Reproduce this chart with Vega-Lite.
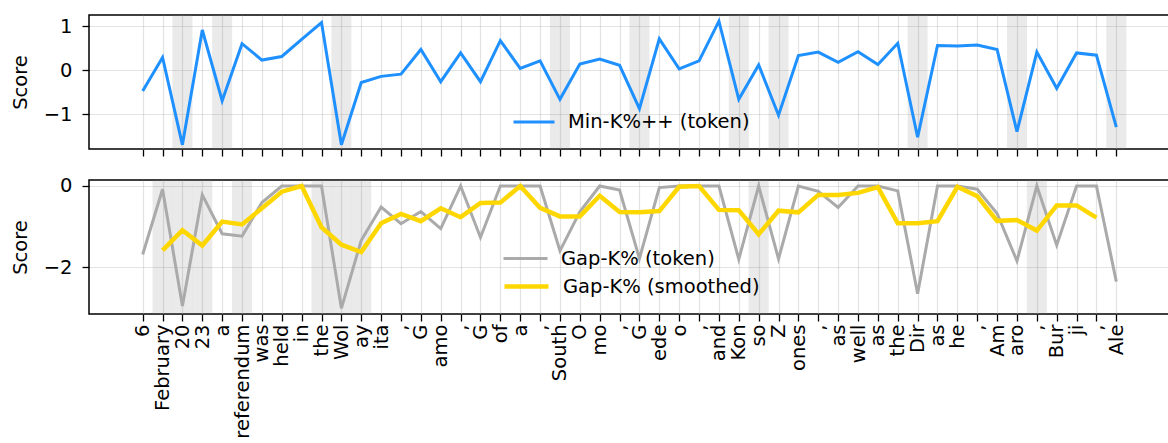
{
  "$schema": "https://vega.github.io/schema/vega-lite/v6.json",
  "padding": {"left": 9, "top": 14, "right": 0, "bottom": 0},
  "background": "white",
  "datasets": {"tok": [
    {"i": 0, "t": "6", "mk": -0.47, "gap": -1.69, "gsm": null, "bt": 0, "bb": 0},
    {"i": 1, "t": "February", "mk": 0.29, "gap": -0.08, "gsm": -1.59, "bt": 0, "bb": 1},
    {"i": 2, "t": "20", "mk": -1.69, "gap": -2.96, "gsm": -1.09, "bt": 1, "bb": 1},
    {"i": 3, "t": "23", "mk": 0.91, "gap": -0.22, "gsm": -1.47, "bt": 0, "bb": 1},
    {"i": 4, "t": "a", "mk": -0.69, "gap": -1.18, "gsm": -0.88, "bt": 1, "bb": 0},
    {"i": 5, "t": "referendum", "mk": 0.60, "gap": -1.24, "gsm": -0.95, "bt": 0, "bb": 1},
    {"i": 6, "t": "was", "mk": 0.23, "gap": -0.41, "gsm": -0.55, "bt": 0, "bb": 0},
    {"i": 7, "t": "held", "mk": 0.31, "gap": 0.0, "gsm": -0.14, "bt": 0, "bb": 0},
    {"i": 8, "t": "in", "mk": 0.70, "gap": 0.0, "gsm": 0.0, "bt": 0, "bb": 0},
    {"i": 9, "t": "the", "mk": 1.08, "gap": 0.0, "gsm": -1.02, "bt": 0, "bb": 1},
    {"i": 10, "t": "Wol", "mk": -1.69, "gap": -3.02, "gsm": -1.45, "bt": 1, "bb": 1},
    {"i": 11, "t": "ay", "mk": -0.28, "gap": -1.34, "gsm": -1.63, "bt": 0, "bb": 1},
    {"i": 12, "t": "ita", "mk": -0.14, "gap": -0.52, "gsm": -0.92, "bt": 0, "bb": 0},
    {"i": 13, "t": ",", "mk": -0.09, "gap": -0.93, "gsm": -0.69, "bt": 0, "bb": 0},
    {"i": 14, "t": "G", "mk": 0.47, "gap": -0.63, "gsm": -0.87, "bt": 0, "bb": 0},
    {"i": 15, "t": "amo", "mk": -0.26, "gap": -1.05, "gsm": -0.55, "bt": 0, "bb": 0},
    {"i": 16, "t": ",", "mk": 0.39, "gap": 0.0, "gsm": -0.77, "bt": 0, "bb": 0},
    {"i": 17, "t": "G", "mk": -0.26, "gap": -1.27, "gsm": -0.42, "bt": 0, "bb": 0},
    {"i": 18, "t": "of", "mk": 0.67, "gap": 0.0, "gsm": -0.41, "bt": 0, "bb": 0},
    {"i": 19, "t": "a", "mk": 0.04, "gap": 0.0, "gsm": 0.0, "bt": 0, "bb": 0},
    {"i": 20, "t": ",", "mk": 0.21, "gap": 0.0, "gsm": -0.54, "bt": 0, "bb": 0},
    {"i": 21, "t": "South", "mk": -0.66, "gap": -1.60, "gsm": -0.75, "bt": 1, "bb": 0},
    {"i": 22, "t": "O", "mk": 0.14, "gap": -0.64, "gsm": -0.75, "bt": 0, "bb": 0},
    {"i": 23, "t": "mo", "mk": 0.25, "gap": 0.0, "gsm": -0.24, "bt": 0, "bb": 0},
    {"i": 24, "t": ",", "mk": 0.11, "gap": -0.10, "gsm": -0.64, "bt": 0, "bb": 0},
    {"i": 25, "t": "G", "mk": -0.87, "gap": -1.79, "gsm": -0.65, "bt": 1, "bb": 0},
    {"i": 26, "t": "ede", "mk": 0.71, "gap": -0.04, "gsm": -0.62, "bt": 0, "bb": 0},
    {"i": 27, "t": "o", "mk": 0.03, "gap": 0.0, "gsm": -0.02, "bt": 0, "bb": 0},
    {"i": 28, "t": ",", "mk": 0.21, "gap": 0.0, "gsm": 0.0, "bt": 0, "bb": 0},
    {"i": 29, "t": "and", "mk": 1.11, "gap": 0.0, "gsm": -0.59, "bt": 0, "bb": 0},
    {"i": 30, "t": "Kon", "mk": -0.66, "gap": -1.81, "gsm": -0.60, "bt": 1, "bb": 0},
    {"i": 31, "t": "so", "mk": 0.12, "gap": 0.0, "gsm": -1.19, "bt": 0, "bb": 1},
    {"i": 32, "t": "Z", "mk": -1.02, "gap": -1.80, "gsm": -0.61, "bt": 1, "bb": 0},
    {"i": 33, "t": "ones", "mk": 0.33, "gap": 0.0, "gsm": -0.65, "bt": 0, "bb": 0},
    {"i": 34, "t": ",", "mk": 0.41, "gap": -0.13, "gsm": -0.22, "bt": 0, "bb": 0},
    {"i": 35, "t": "as", "mk": 0.18, "gap": -0.53, "gsm": -0.22, "bt": 0, "bb": 0},
    {"i": 36, "t": "well", "mk": 0.42, "gap": 0.0, "gsm": -0.17, "bt": 0, "bb": 0},
    {"i": 37, "t": "as", "mk": 0.13, "gap": 0.0, "gsm": -0.03, "bt": 0, "bb": 0},
    {"i": 38, "t": "the", "mk": 0.61, "gap": -0.12, "gsm": -0.92, "bt": 0, "bb": 0},
    {"i": 39, "t": "Dir", "mk": -1.52, "gap": -2.66, "gsm": -0.92, "bt": 1, "bb": 0},
    {"i": 40, "t": "as", "mk": 0.56, "gap": 0.0, "gsm": -0.87, "bt": 0, "bb": 0},
    {"i": 41, "t": "he", "mk": 0.55, "gap": 0.0, "gsm": -0.02, "bt": 0, "bb": 0},
    {"i": 42, "t": ",", "mk": 0.57, "gap": -0.08, "gsm": -0.25, "bt": 0, "bb": 0},
    {"i": 43, "t": "Am", "mk": 0.47, "gap": -0.68, "gsm": -0.86, "bt": 0, "bb": 0},
    {"i": 44, "t": "aro", "mk": -1.39, "gap": -1.85, "gsm": -0.84, "bt": 1, "bb": 0},
    {"i": 45, "t": ",", "mk": 0.41, "gap": 0.0, "gsm": -1.10, "bt": 0, "bb": 1},
    {"i": 46, "t": "Bur", "mk": -0.41, "gap": -1.46, "gsm": -0.48, "bt": 0, "bb": 0},
    {"i": 47, "t": "ji", "mk": 0.39, "gap": 0.0, "gsm": -0.48, "bt": 0, "bb": 0},
    {"i": 48, "t": ",", "mk": 0.34, "gap": 0.0, "gsm": -0.78, "bt": 0, "bb": 0},
    {"i": 49, "t": "Ale", "mk": -1.29, "gap": -2.36, "gsm": null, "bt": 1, "bb": 0}
  ]},
  "data": {"name": "tok"},
  "spacing": 31,
  "bounds": "flush",
  "resolve": {"scale": {"color": "independent", "stroke": "independent", "y": "independent"}, "legend": {"color": "independent", "stroke": "independent"}},
  "vconcat": [
    {
      "width": 1081,
      "height": 134,
      "encoding": {
        "x": {"field": "i", "type": "quantitative",
              "scale": {"domain": [-2.45, 51.45], "nice": false, "zero": false},
              "axis": {"labels": false, "title": null, "grid": true, "ticks": true,
                       "values": [0,1,2,3,4,5,6,7,8,9,10,11,12,13,14,15,16,17,18,19,20,21,22,23,24,25,26,27,28,29,30,31,32,33,34,35,36,37,38,39,40,41,42,43,44,45,46,47,48,49]}}
      },
      "layer": [
        {
          "mark": {"type": "bar", "width": 20.06, "color": "#808080"},
          "encoding": {
            "y": {"value": 0},
            "y2": {"value": "height"},
            "opacity": {"condition": {"test": "datum.bt == 1", "value": 0.17}, "value": 0}
          }
        },
        {
          "mark": {"type": "line", "strokeWidth": 3},
          "encoding": {
            "y": {"field": "mk", "type": "quantitative",
                  "scale": {"domain": [-1.785, 1.25], "nice": false, "zero": false},
                  "axis": {"values": [-1, 0, 1], "title": "Score", "grid": true}},
            "color": {"datum": "Min-K%++ (token)", "type": "nominal",
                      "scale": {"range": ["#1e90ff"]},
                      "legend": {"orient": "none", "legendX": 423, "legendY": 85, "title": null,
                                 "symbolType": "stroke", "symbolSize": 1681, "symbolStrokeWidth": 3,
                                 "labelOffset": 12, "padding": 0, "labelLimit": 500}}
          }
        }
      ]
    },
    {
      "width": 1081,
      "height": 134,
      "encoding": {
        "x": {"field": "i", "type": "quantitative",
              "scale": {"domain": [-2.45, 51.45], "nice": false, "zero": false},
              "axis": {"title": null, "grid": true, "ticks": true, "labelAngle": -90,
                       "labelOverlap": false, "labelPadding": 3, "labelLimit": 500, "labelFlush": false,
                       "values": [0,1,2,3,4,5,6,7,8,9,10,11,12,13,14,15,16,17,18,19,20,21,22,23,24,25,26,27,28,29,30,31,32,33,34,35,36,37,38,39,40,41,42,43,44,45,46,47,48,49],
                       "labelExpr": "(datum.value >= 0 && datum.value < length(data('tok'))) ? data('tok')[datum.value].t : ''"}}
      },
      "layer": [
        {
          "mark": {"type": "bar", "width": 20.06, "color": "#808080"},
          "encoding": {
            "y": {"value": 0},
            "y2": {"value": "height"},
            "opacity": {"condition": {"test": "datum.bb == 1", "value": 0.17}, "value": 0}
          }
        },
        {
          "mark": {"type": "line", "strokeWidth": 3},
          "encoding": {
            "y": {"field": "gap", "type": "quantitative",
                  "scale": {"domain": [-3.16, 0.148], "nice": false, "zero": false},
                  "axis": {"values": [-2, 0], "title": "Score", "grid": true}},
            "stroke": {"datum": "Gap-K% (token)", "type": "nominal",
                       "scale": {"range": ["#aaaaaa"]},
                       "legend": {"orient": "none", "legendX": 413, "legendY": 55, "title": null,
                                  "symbolType": "stroke", "symbolSize": 1936, "symbolStrokeWidth": 3,
                                  "labelOffset": 12, "padding": 0, "labelLimit": 500}}
          }
        },
        {
          "mark": {"type": "line", "strokeWidth": 4.5},
          "encoding": {
            "y": {"field": "gsm", "type": "quantitative"},
            "color": {"datum": "Gap-K% (smoothed)", "type": "nominal",
                      "scale": {"range": ["#ffd700"]},
                      "legend": {"orient": "none", "legendX": 413, "legendY": 82, "title": null,
                                 "symbolType": "stroke", "symbolSize": 1936, "symbolStrokeWidth": 4.5,
                                 "labelOffset": 12, "padding": 0, "labelLimit": 500}}
          }
        }
      ]
    }
  ],
  "config": {
    "font": "DejaVu Sans",
    "view": {"stroke": "black", "strokeWidth": 1.5},
    "axis": {
      "domain": false,
      "tickColor": "black", "tickSize": 7, "tickWidth": 1.3,
      "labelFont": "DejaVu Sans", "labelFontSize": 19.5, "labelColor": "black", "labelPadding": 10,
      "titleFont": "DejaVu Sans", "titleFontSize": 19.5, "titleFontWeight": "normal", "titleColor": "black", "titlePadding": 13,
      "gridColor": "#b0b0b0", "gridOpacity": 0.35, "gridWidth": 1.2
    },
    "legend": {"labelFont": "DejaVu Sans", "labelFontSize": 19.5, "labelColor": "black"}
  }
}
